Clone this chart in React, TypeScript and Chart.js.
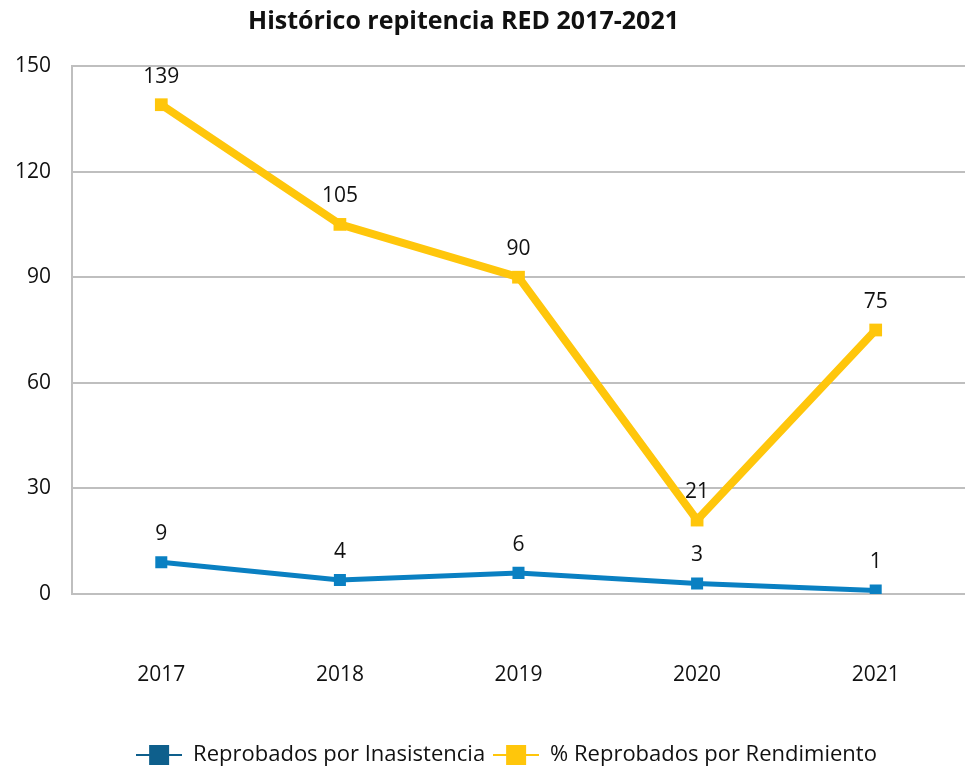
import React, { useEffect, useRef } from "react";
import { Chart, registerables } from "chart.js";

Chart.register(...registerables);

const TITLE = "Histórico repitencia RED 2017-2021";
const YEARS = ["2017", "2018", "2019", "2020", "2021"];
const INASISTENCIA = [9, 4, 6, 3, 1];
const RENDIMIENTO = [139, 105, 90, 21, 75];
const SERIES_NAMES = ["Reprobados por Inasistencia", "% Reprobados por Rendimiento"];
const Y_TICKS = [0, 30, 60, 90, 120, 150];

const BLUE = "#0a80c2";
const BLUE_LEGEND = "#0e5f8c";
const YELLOW = "#ffc60b";
const FONT = "'Open Sans', sans-serif";

function makeMarker(color: string) {
  const c = document.createElement("canvas");
  c.width = 46;
  c.height = 22;
  const ctx = c.getContext("2d")!;
  ctx.strokeStyle = color;
  ctx.lineWidth = 2;
  ctx.beginPath();
  ctx.moveTo(0, 11);
  ctx.lineTo(46, 11);
  ctx.stroke();
  ctx.fillStyle = color;
  ctx.fillRect(13, 1, 20, 20);
  return c;
}

const valueLabels = {
  id: "valueLabels",
  afterDatasetsDraw(chart: any) {
    const ctx = chart.ctx;
    ctx.save();
    ctx.font = `21px ${FONT}`;
    ctx.fillStyle = "#111";
    ctx.textAlign = "center";
    ctx.textBaseline = "middle";
    chart.data.datasets.forEach((ds: any, i: number) => {
      const meta = chart.getDatasetMeta(i);
      meta.data.forEach((pt: any, j: number) => {
        ctx.fillText(String(ds.data[j]), pt.x, pt.y - 28);
      });
    });
    ctx.restore();
  },
};

const shiftBlocks = {
  id: "shiftBlocks",
  afterLayout(chart: any) {
    if (chart.titleBlock) {
      chart.titleBlock.left -= 19;
      chart.titleBlock.right -= 19;
    }
    if (chart.legend) {
      chart.legend.left += 24;
      chart.legend.right += 24;
    }
  },
};

export default function App() {
  const ref = useRef<HTMLCanvasElement>(null);
  useEffect(() => {
    document.body.style.margin = "0";
    const markers = [makeMarker(BLUE_LEGEND), makeMarker(YELLOW)];
    const chart = new Chart(ref.current!, {
      type: "line",
      data: {
        labels: YEARS,
        datasets: [
          {
            label: SERIES_NAMES[0],
            data: INASISTENCIA,
            borderColor: BLUE,
            backgroundColor: BLUE,
            borderWidth: 5,
            pointStyle: "rect",
            pointRadius: 8.5,
            pointBorderWidth: 0,
            tension: 0,
          },
          {
            label: SERIES_NAMES[1],
            data: RENDIMIENTO,
            borderColor: YELLOW,
            backgroundColor: YELLOW,
            borderWidth: 8,
            pointStyle: "rect",
            pointRadius: 9,
            pointBorderWidth: 0,
            tension: 0,
          },
        ],
      },
      options: {
        responsive: false,
        animation: false,
        layout: { autoPadding: false, padding: { left: 0, right: 0, top: 0, bottom: -4 } },
        plugins: {
          title: {
            display: true,
            text: TITLE,
            color: "#111",
            font: { family: FONT, size: 25, weight: "bold" },
            padding: { top: 7, bottom: 29 },
          },
          legend: {
            position: "bottom",
            labels: {
              usePointStyle: true,
              pointStyleWidth: 46,
              color: "#111",
              font: { family: FONT, size: 22 },
              padding: 8,
              generateLabels: (chart: any) =>
                chart.data.datasets.map((ds: any, i: number) => ({
                  text: ds.label,
                  pointStyle: markers[i],
                  fillStyle: ds.borderColor,
                  strokeStyle: ds.borderColor,
                  lineWidth: 0,
                  datasetIndex: i,
                  hidden: false,
                  fontColor: "#111",
                })),
            },
          },
          tooltip: { enabled: false },
        },
        scales: {
          x: {
            offset: true,
            grid: { display: false, drawTicks: false },
            border: { display: false },
            ticks: {
              color: "#111",
              font: { family: FONT, size: 21 },
              padding: 68,
            },
            afterFit: (s: any) => {
              s.height = 142;
              s.paddingLeft = 0;
              s.paddingRight = 0;
            },
          },
          y: {
            min: 0,
            max: 150,
            afterBuildTicks: (s: any) => {
              s.ticks = Y_TICKS.map((v) => ({ value: v }));
            },
            grid: { color: "#bfbfbf", lineWidth: 2, drawTicks: false },
            border: { display: true, color: "#bfbfbf", width: 2 },
            ticks: {
              color: "#111",
              font: { family: FONT, size: 21 },
              padding: 21,
            },
            afterFit: (s: any) => {
              s.width = 72;
            },
          },
        },
      },
      plugins: [valueLabels, shiftBlocks],
    });
    return () => chart.destroy();
  }, []);
  return (
    <div style={{ width: 965, height: 772 }}>
      <canvas ref={ref} width={965} height={772} style={{ display: "block" }} />
    </div>
  );
}
